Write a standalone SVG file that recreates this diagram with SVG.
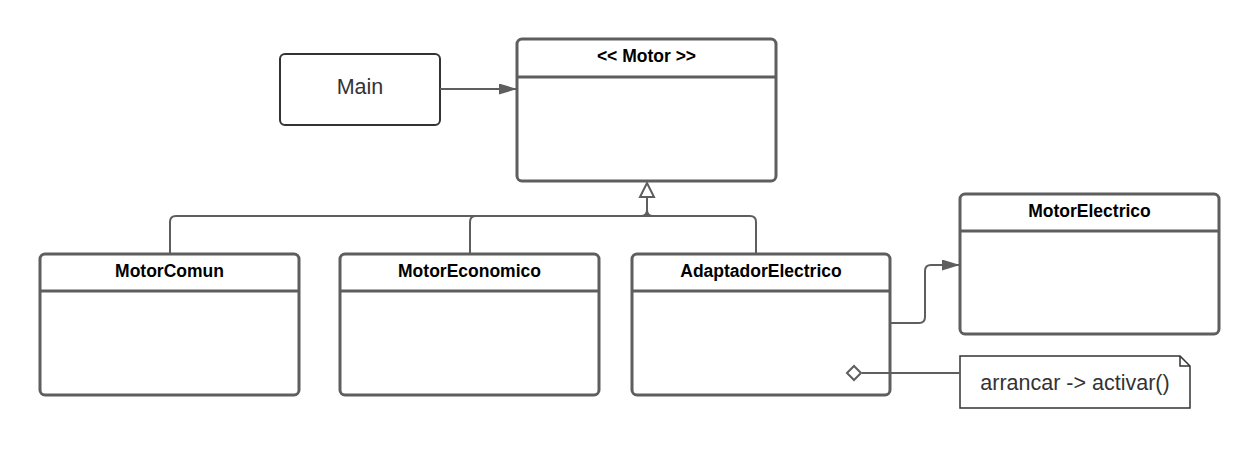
<svg xmlns="http://www.w3.org/2000/svg" width="1259" height="449" viewBox="0 0 1259 449">
<defs>
<style>
.cls{fill:#fff;stroke:#5e5e5e;stroke-width:3}
.sep{stroke:#5e5e5e;stroke-width:3}
.name{font-family:"Liberation Sans",Arial,sans-serif;font-weight:bold;font-size:17.5px;fill:#000;text-anchor:middle}
.conn{fill:none;stroke:#5e5e5e;stroke-width:2}
</style>
<marker id="arr" viewBox="0 0 18 11" refX="18" refY="5.5" markerWidth="18" markerHeight="11" markerUnits="userSpaceOnUse" orient="auto">
<path d="M0,0 L18,5.5 L0,11 Z" fill="#5e5e5e"/>
</marker>
</defs>
<rect width="1259" height="449" fill="#fff"/>
<g id="main">
<rect x="280" y="54" width="160" height="71" rx="5" fill="#fff" stroke="#333" stroke-width="2"/>
<text x="360" y="94" font-family="Liberation Sans,Arial,sans-serif" font-size="21.5" fill="#333" text-anchor="middle">Main</text>
</g>
<g id="motor">
<rect class="cls" x="517" y="39" width="259" height="142" rx="5"/>
<line class="sep" x1="517" y1="77" x2="776" y2="77"/>
<text class="name" x="646.5" y="62">&lt;&lt; Motor &gt;&gt;</text>
</g>
<g id="motorcomun">
<rect class="cls" x="40" y="254" width="259" height="141" rx="5"/>
<line class="sep" x1="40" y1="291" x2="299" y2="291"/>
<text class="name" x="169.5" y="277">MotorComun</text>
</g>
<g id="motoreconomico">
<rect class="cls" x="340" y="254" width="259" height="141" rx="5"/>
<line class="sep" x1="340" y1="291" x2="599" y2="291"/>
<text class="name" x="469.5" y="277">MotorEconomico</text>
</g>
<g id="adaptador">
<rect class="cls" x="632" y="254" width="258" height="141" rx="5"/>
<line class="sep" x1="632" y1="291" x2="890" y2="291"/>
<text class="name" x="761" y="277">AdaptadorElectrico</text>
</g>
<g id="motorelectrico">
<rect class="cls" x="960" y="194" width="259" height="140" rx="5"/>
<line class="sep" x1="960" y1="231" x2="1219" y2="231"/>
<text class="name" x="1089.5" y="217">MotorElectrico</text>
</g>
<g id="note">
<path d="M960,356 H1180 L1190,366 V408 H960 Z" fill="#fff" stroke="#333" stroke-width="1.5"/>
<path d="M1180,356 V366 H1190" fill="none" stroke="#333" stroke-width="1.5"/>
<text x="1075" y="390" font-family="Liberation Sans,Arial,sans-serif" font-size="21.5" fill="#333" text-anchor="middle">arrancar -&gt; activar()</text>
</g>
<g id="connectors">
<path class="conn" d="M440,89 H517" marker-end="url(#arr)"/>
<path class="conn" d="M647,197 V216"/>
<path class="conn" d="M170,254 V222 Q170,216 176,216 H750 Q756,216 756,222 V254"/>
<path class="conn" d="M470,254 V222 Q470,216 476,216"/>
<path class="conn" d="M641,216 Q647,216 647,210"/>
<path class="conn" d="M653,216 Q647,216 647,210"/>
<polygon points="647,183 640,197 654,197" fill="#fff" stroke="#5e5e5e" stroke-width="2"/>
<path class="conn" d="M890,323 H919 Q925,323 925,317 V271 Q925,265 931,265 H960" marker-end="url(#arr)"/>
<path class="conn" d="M862,373 H960"/>
<polygon points="847,373 854,366 861,373 854,380" fill="#fff" stroke="#5e5e5e" stroke-width="2"/>
</g>
</svg>
